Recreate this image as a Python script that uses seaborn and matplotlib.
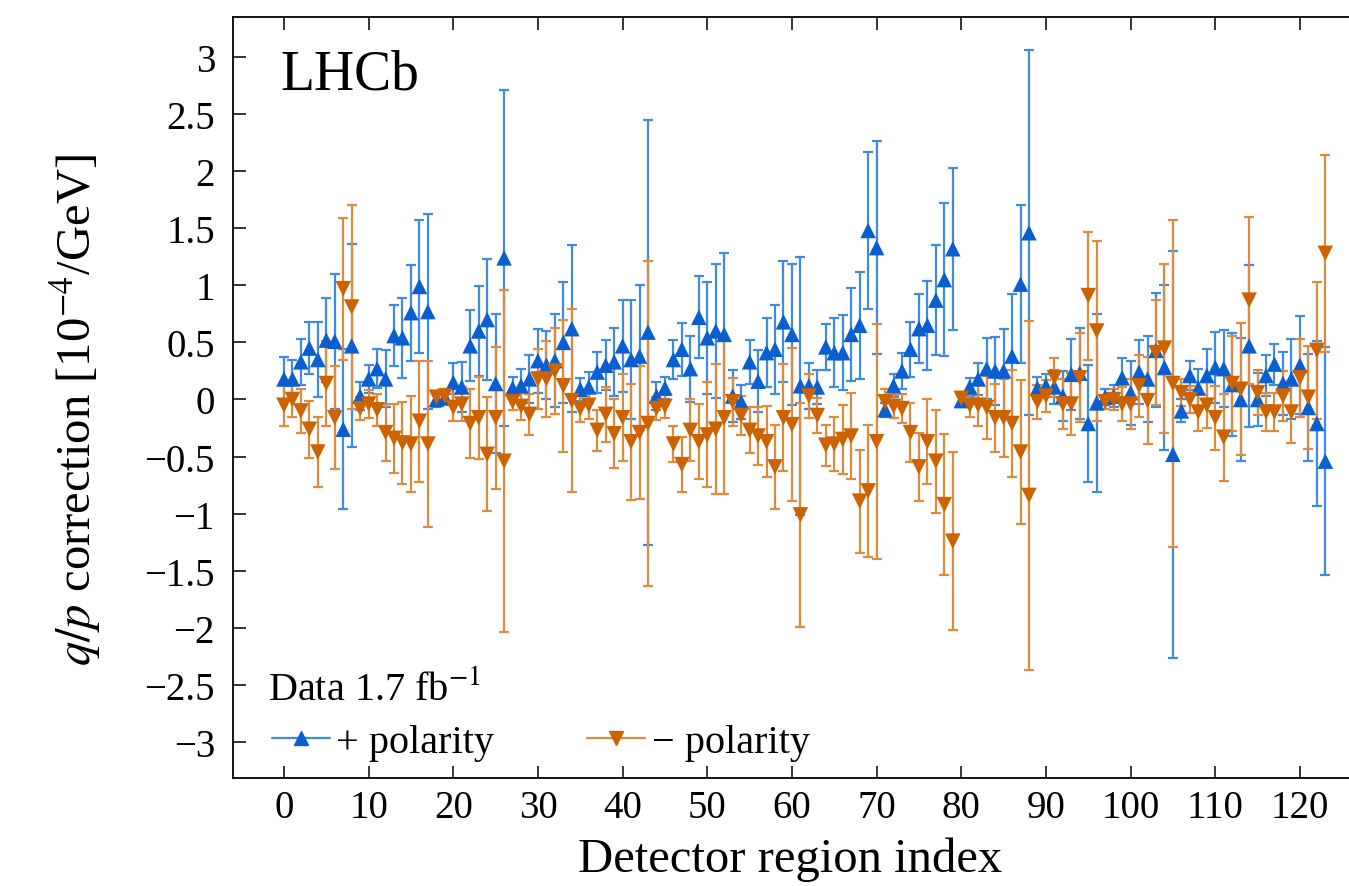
import numpy as np
import pandas as pd
import seaborn as sns
import matplotlib
matplotlib.use("Agg")
import matplotlib.pyplot as plt
from matplotlib.lines import Line2D
from matplotlib.ticker import FuncFormatter, MultipleLocator

# ---------------- data ----------------
region = list(range(124))

plus_val = [0.18, 0.18, 0.33, 0.45, 0.35, 0.52, 0.51, -0.26, 0.47,
            0.03, 0.18, 0.27, 0.18, 0.56, 0.54, 0.76, 0.99, 0.77,
            0.00, 0.02, 0.15, 0.11, 0.47, 0.60, 0.70, 0.14, 1.24,
            0.10, 0.12, 0.18, 0.34, 0.30, 0.34, 0.50, 0.62,
            0.09, 0.11, 0.24, 0.30, 0.33, 0.47, 0.35, 0.38, 0.59,
            0.03, 0.10, 0.35, 0.44, 0.27, 0.72, 0.54, 0.60, 0.57,
            0.03, -0.02, 0.33, 0.16, 0.41, 0.44, 0.68, 0.57, 0.12,
            0.12, 0.11, 0.46, 0.41, 0.41, 0.57, 0.65, 1.48, 1.33,
            -0.09, 0.12, 0.25, 0.44, 0.62, 0.65, 0.87, 1.05, 1.32,
            -0.01, 0.11, 0.18, 0.27, 0.25, 0.25, 0.38, 1.01, 1.46,
            0.10, 0.12, 0.11, 0.03, 0.22, 0.23, -0.21, -0.03,
            0.02, 0.03, 0.19, 0.06, 0.24, 0.18, 0.43, 0.28, -0.48,
            -0.10, 0.21, 0.10, 0.21, 0.28, 0.27, 0.13, 0.00, 0.47,
            0.00, 0.21, 0.31, 0.14, 0.18, 0.30, -0.07, -0.21, -0.54]

plus_err = [0.19, 0.17, 0.20, 0.23, 0.33, 0.37, 0.59, 0.70, 0.89,
            0.12, 0.12, 0.17, 0.25, 0.27, 0.35, 0.42, 0.58, 0.85,
            0.07, 0.07, 0.17, 0.22, 0.31, 0.39, 0.53, 0.61, 1.47,
            0.10, 0.15, 0.21, 0.28, 0.30, 0.41, 0.53, 0.73,
            0.10, 0.13, 0.18, 0.22, 0.30, 0.40, 0.52, 0.62, 1.86,
            0.12, 0.10, 0.17, 0.23, 0.29, 0.36, 0.49, 0.59, 0.71,
            0.23, 0.15, 0.19, 0.27, 0.30, 0.39, 0.53, 0.62, 1.13,
            0.20, 0.15, 0.20, 0.30, 0.33, 0.41, 0.47, 0.69, 0.93,
            0.06, 0.10, 0.16, 0.24, 0.30, 0.39, 0.48, 0.67, 0.71,
            0.05, 0.08, 0.14, 0.27, 0.30, 0.37, 0.54, 0.69, 1.60,
            0.10, 0.10, 0.15, 0.22, 0.31, 0.40, 0.51, 0.78,
            0.07, 0.10, 0.17, 0.28, 0.28, 0.38, 0.50, 0.72, 1.78,
            0.10, 0.13, 0.17, 0.23, 0.31, 0.34, 0.45, 0.54, 0.71,
            0.23, 0.18, 0.18, 0.28, 0.35, 0.43, 0.47, 0.72, 1.00]

minus_val = [-0.05, 0.00, -0.10, -0.26, -0.46, 0.14, -0.16, 0.97, 0.81,
             -0.08, -0.04, -0.09, -0.29, -0.34, -0.38, -0.39, -0.19, -0.39,
             0.02, 0.03, -0.07, -0.04, -0.21, -0.16, -0.48, -0.16, -0.54,
             -0.02, -0.06, -0.13, 0.18, 0.18, 0.25, 0.12, -0.01,
             -0.08, -0.05, -0.27, -0.13, -0.30, -0.16, -0.37, -0.29, -0.21,
             -0.08, -0.06, -0.39, -0.57, -0.27, -0.37, -0.31, -0.26, -0.16,
             -0.02, -0.14, -0.27, -0.32, -0.37, -0.59, -0.16, -0.22, -1.01,
             0.03, -0.14, -0.40, -0.39, -0.35, -0.32, -0.89, -0.80, -0.37,
             -0.02, -0.06, -0.08, -0.29, -0.59, -0.37, -0.54, -0.92, -1.24,
             0.01, -0.05, -0.05, -0.07, -0.16, -0.16, -0.21, -0.46, -0.84,
             -0.02, 0.03, 0.19, -0.04, -0.04, 0.19, 0.91, 0.60,
             -0.02, 0.00, -0.04, -0.04, 0.12, -0.01, 0.41, 0.45, 0.14,
             0.06, 0.00, -0.11, -0.05, -0.16, -0.33, 0.14, 0.09, 0.87,
             0.06, -0.11, -0.11, 0.03, -0.11, 0.19, 0.02, 0.43, 1.28]

minus_err = [0.18, 0.15, 0.19, 0.25, 0.31, 0.37, 0.45, 0.62, 0.89,
             0.10, 0.12, 0.14, 0.25, 0.30, 0.36, 0.42, 0.53, 0.73,
             0.05, 0.06, 0.12, 0.15, 0.30, 0.36, 0.50, 0.62, 1.50,
             0.07, 0.12, 0.18, 0.26, 0.33, 0.38, 0.58, 0.80,
             0.12, 0.12, 0.18, 0.24, 0.30, 0.38, 0.51, 0.58, 1.42,
             0.10, 0.10, 0.16, 0.24, 0.27, 0.33, 0.46, 0.57, 0.67,
             0.21, 0.17, 0.20, 0.25, 0.31, 0.37, 0.47, 0.67, 0.98,
             0.19, 0.15, 0.18, 0.24, 0.30, 0.38, 0.45, 0.58, 1.03,
             0.11, 0.10, 0.13, 0.26, 0.30, 0.37, 0.45, 0.62, 0.78,
             0.06, 0.10, 0.18, 0.28, 0.30, 0.34, 0.47, 0.63, 1.53,
             0.15, 0.14, 0.17, 0.22, 0.27, 0.39, 0.56, 0.79,
             0.06, 0.09, 0.15, 0.22, 0.27, 0.38, 0.46, 0.74, 1.43,
             0.12, 0.12, 0.17, 0.20, 0.28, 0.38, 0.42, 0.58, 0.73,
             0.20, 0.17, 0.17, 0.22, 0.27, 0.34, 0.45, 0.60, 0.86]

series_labels = ["+ polarity", "\u2212 polarity"]
x_ticks = [0, 10, 20, 30, 40, 50, 60, 70, 80, 90, 100, 110, 120]

# ---------------- style ----------------
sns.set_theme(style="ticks")
plt.rcParams["font.family"] = ["Liberation Serif", "DejaVu Serif"]
plt.rcParams["mathtext.fontset"] = "stix"
plt.rcParams["axes.unicode_minus"] = True
plt.rcParams["text.color"] = "black"
plt.rcParams["axes.labelcolor"] = "black"
plt.rcParams["xtick.color"] = "black"
plt.rcParams["ytick.color"] = "black"

blue = "#0a5fd0"
blue_bar = "#3f8ae3"
orange = "#cc6300"
orange_bar = "#e08a3e"

W, H = 1349, 887
fig = plt.figure(figsize=(W / 100, H / 100), dpi=100)
ax = fig.add_axes([233 / W, 1 - 779 / H, (W - 233) / W, (779 - 18) / H])

# error bars
ax.errorbar(region, plus_val, yerr=plus_err, fmt="none", ecolor=blue_bar,
            elinewidth=1.6, capsize=3.4, capthick=1.6, zorder=2)
ax.errorbar(region, minus_val, yerr=minus_err, fmt="none", ecolor=orange_bar,
            elinewidth=1.6, capsize=3.4, capthick=1.6, zorder=2)

# markers with seaborn
df = pd.DataFrame({
    "region": region + region,
    "value": plus_val + minus_val,
    "polarity": [series_labels[0]] * len(region) + [series_labels[1]] * len(region),
})
sns.scatterplot(data=df, x="region", y="value", hue="polarity", style="polarity",
                markers={series_labels[0]: "^", series_labels[1]: "v"},
                palette={series_labels[0]: blue, series_labels[1]: orange},
                s=125, linewidth=0, legend=False, ax=ax, zorder=3)

# axes
ax.set_xlim(-6.02, 125.8)
ax.set_ylim(-3.314, 3.349)
ax.set_xticks(x_ticks)
ax.yaxis.set_major_locator(MultipleLocator(0.5))
ax.yaxis.set_major_formatter(FuncFormatter(lambda v, p: ("%g" % round(v, 2)).replace("-", "\u2212")))
ax.spines["right"].set_visible(False)
for s in ["left", "bottom", "top"]:
    ax.spines[s].set_linewidth(1.3)
    ax.spines[s].set_color("black")
ax.tick_params(axis="both", direction="in", length=9, width=1.1, colors="black",
               labelsize=28, top=True, right=False)
ax.tick_params(axis="x", pad=8)
ax.tick_params(axis="y", pad=13)

ax.set_xlabel("Detector region index", fontsize=35)
ax.xaxis.label.set_va("center")
ax.xaxis.set_label_coords((790 - 233) / 1116, (779 - 860) / 761)
ax.set_ylabel("$q/p$ correction [10$^{-4}$/GeV]", fontsize=35)
ax.yaxis.label.set_va("center")
ax.yaxis.set_label_coords((75 - 233) / 1116, (779 - 410) / 761)

ax.text((280 - 233) / 1116, (779 - 75) / 761, "LHCb", transform=ax.transAxes,
        fontsize=40, ha="left", va="center")
ax.text((268 - 233) / 1116, (779 - 690) / 761, "Data 1.7 fb$^{-1}$",
        transform=ax.transAxes, fontsize=29, ha="left", va="center")

handles = [
    Line2D([0], [0], color=blue_bar, lw=1.6, marker="^", ms=10, mfc=blue, mec=blue),
    Line2D([0], [0], color=orange_bar, lw=1.6, marker="v", ms=10, mfc=orange, mec=orange),
]
ax.legend(handles, series_labels, loc="center left",
          bbox_to_anchor=((272 - 233) / 1116, (779 - 743) / 761),
          ncol=2, frameon=False, fontsize=29, borderpad=0, borderaxespad=0,
          handlelength=1.45, handletextpad=0.15, columnspacing=2.3)

fig.savefig("out.png", dpi=100)
